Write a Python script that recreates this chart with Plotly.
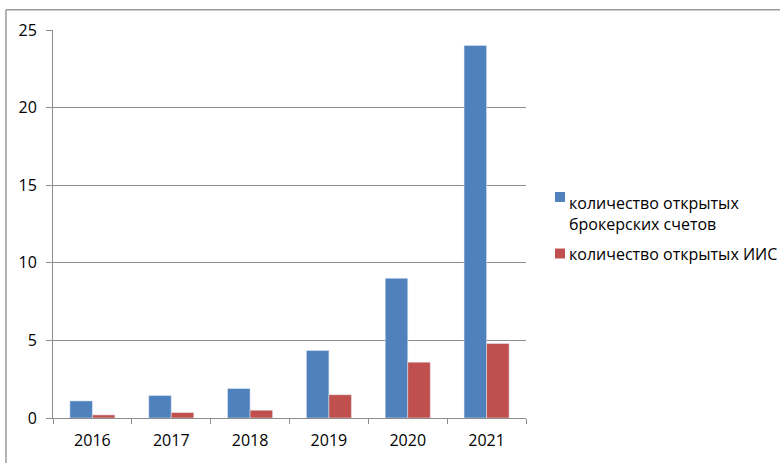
import plotly.graph_objects as go

# Chart data
years = ["2016", "2017", "2018", "2019", "2020", "2021"]
brokerage_accounts = [1.1, 1.45, 1.9, 4.35, 9.0, 24.0]
iis_accounts = [0.2, 0.35, 0.5, 1.5, 3.6, 4.8]
series_names = ["количество открытых<br>брокерских счетов", "количество открытых ИИС"]
y_ticks = [0, 5, 10, 15, 20, 25]

BLUE = "#4F81BD"
RED = "#C0504D"
GRID = "#8C8C8C"
FONT = "Open Sans"
FS = 16

W, H = 780, 463
# plot area in pixels
L, R, T, B = 53, 526, 29.5, 421


def px_x(px):
    return (px - L) / (R - L)


def px_y(py):
    return (B - py) / (B - T)


fig = go.Figure()
fig.add_trace(go.Bar(x=years, y=brokerage_accounts, marker_color=BLUE,
                     name=series_names[0], showlegend=False))
fig.add_trace(go.Bar(x=years, y=iis_accounts, marker_color=RED,
                     name=series_names[1], showlegend=False))

shapes = []
annotations = []

# outer chart frame (top and left edges visible)
shapes.append(dict(type="line", xref="paper", yref="paper",
                   x0=px_x(6), x1=px_x(800), y0=px_y(9), y1=px_y(9),
                   line=dict(color="#9a9a9a", width=1.5)))
shapes.append(dict(type="line", xref="paper", yref="paper",
                   x0=px_x(6), x1=px_x(6), y0=px_y(9), y1=px_y(480),
                   line=dict(color="#9a9a9a", width=1.5)))

# legend: colour squares + labels
legend_rows = [(BLUE, 198), (RED, 255)]
for color, sq_y in legend_rows:
    shapes.append(dict(type="rect", xref="paper", yref="paper",
                       x0=px_x(555), x1=px_x(565), y0=px_y(sq_y - 5), y1=px_y(sq_y + 5),
                       fillcolor=color, line=dict(width=0)))
annotations.append(dict(xref="paper", yref="paper", x=px_x(567), y=px_y(191),
                        xanchor="left", yanchor="top", showarrow=False, align="left",
                        text=series_names[0], font=dict(family=FONT, size=FS, color="#000")))
annotations.append(dict(xref="paper", yref="paper", x=px_x(567), y=px_y(255.5),
                        xanchor="left", yanchor="middle", showarrow=False, align="left",
                        text=series_names[1], font=dict(family=FONT, size=FS, color="#000")))

fig.update_layout(
    width=W, height=H,
    margin=dict(l=L, r=W - R, t=T, b=H - B, pad=0),
    paper_bgcolor="white", plot_bgcolor="white",
    barmode="group", bargap=1.5 / 3.5, bargroupgap=0,
    font=dict(family=FONT, size=FS, color="#000"),
    shapes=shapes, annotations=annotations,
    showlegend=False,
)
fig.update_xaxes(
    showline=True, linecolor=GRID, linewidth=1,
    ticks="outside", tickson="boundaries", ticklen=5, tickcolor=GRID,
    showgrid=False, ticklabelstandoff=8,
)
fig.update_yaxes(
    range=[0, 25], tickvals=y_ticks,
    showline=True, linecolor=GRID, linewidth=1,
    ticks="outside", ticklen=6, tickcolor=GRID,
    showgrid=True, gridcolor=GRID, gridwidth=1,
    zeroline=False, ticklabelstandoff=6,
)

fig.write_html("out.html")
